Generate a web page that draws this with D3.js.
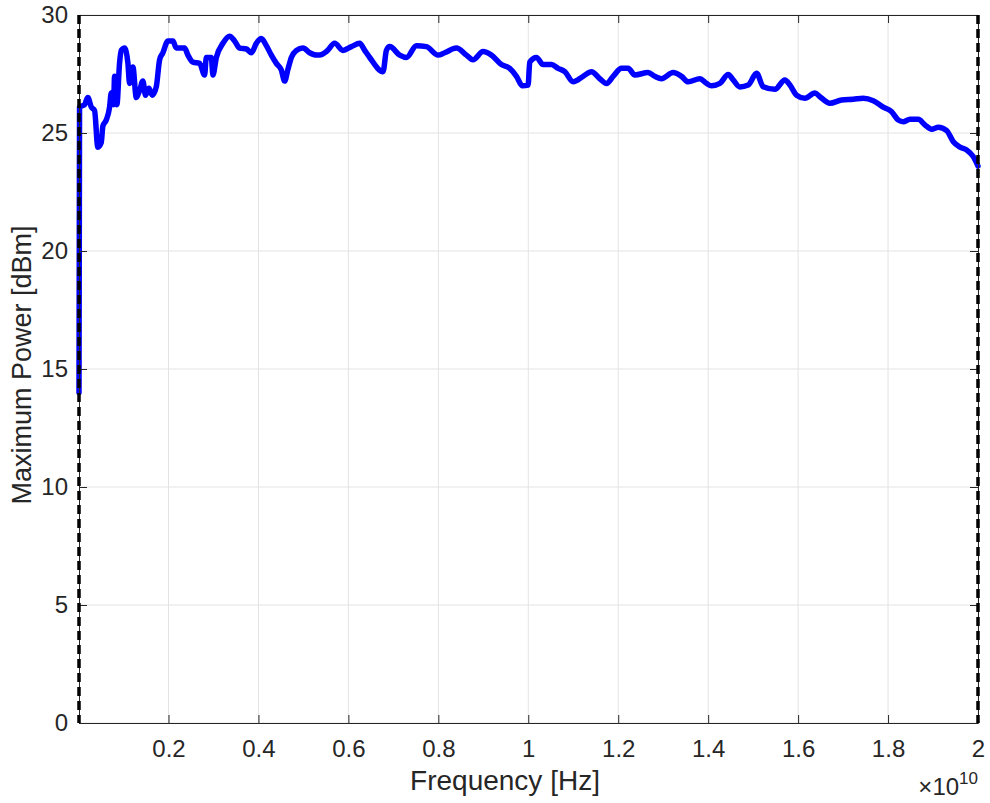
<!DOCTYPE html>
<html>
<head>
<meta charset="utf-8">
<script src="https://cdn.jsdelivr.net/npm/d3@7/dist/d3.min.js"></script>
<style>
  html, body { margin: 0; padding: 0; background: #fff; }
  svg { display: block; }
  text { font-family: "Liberation Sans", Arial, Helvetica, sans-serif; }
</style>
</head>
<body>
<svg id="chart" width="990" height="803"></svg>
<script>
// Frequency in GHz (converted to Hz for the scale), maximum power in dBm
const freqGHz = [0.01, 0.022, 0.133, 0.207, 0.283, 0.356, 0.429, 0.505, 0.541, 0.616, 0.690, 0.727, 0.779, 0.801, 0.852,
  0.912, 0.950, 1.023, 1.097, 1.135, 1.208, 1.284, 1.357, 1.430, 1.490, 1.564, 1.640, 1.729, 1.802, 1.875, 1.987,
  2.098, 2.173, 2.247, 2.358, 2.432, 2.543, 2.692, 2.803, 2.841, 2.952, 2.988, 3.064, 3.210, 3.359, 3.470, 3.582,
  3.731, 3.842, 3.953, 4.065, 4.176, 4.287, 4.398, 4.509, 4.583, 4.656, 4.732, 4.843, 4.990, 5.139, 5.288, 5.362,
  5.511, 5.695, 5.880, 6.067, 6.252, 6.363, 6.474, 6.770, 6.846, 6.919, 7.141, 7.290, 7.513, 7.735, 7.993, 8.142,
  8.402, 8.625, 8.771, 8.994, 9.181, 9.403, 9.588, 9.737, 9.871, 9.996, 10.033, 10.182, 10.329, 10.516, 10.663,
  10.812, 10.997, 11.219, 11.406, 11.591, 11.740, 11.887, 12.074, 12.221, 12.369, 12.665, 12.814, 12.963, 13.221,
  13.408, 13.555, 13.815, 13.964, 14.075, 14.260, 14.445, 14.556, 14.705, 14.890, 15.077, 15.224, 15.484, 15.706,
  15.818, 15.967, 16.151, 16.374, 16.485, 16.707, 16.968, 17.226, 17.448, 17.671, 17.893, 18.080, 18.227, 18.338,
  18.487, 18.672, 18.821, 18.970, 19.117, 19.304, 19.451, 19.600, 19.748, 19.896, 20.0];
const powerDBm = [14.0, 26.1, 26.2, 26.5, 26.1, 25.95, 24.4, 24.6, 25.3, 25.55, 26.1, 26.7, 26.2, 27.4, 26.2,
  27.97, 28.5, 28.6, 27.97, 27.1, 27.8, 26.5, 26.8, 27.2, 26.6, 26.9, 26.6, 26.96, 28.1, 28.4, 28.9,
  28.9, 28.6, 28.6, 28.6, 28.3, 28.0, 27.95, 27.46, 28.2, 28.2, 27.46, 28.2, 28.8, 29.1, 28.9, 28.6,
  28.56, 28.4, 28.8, 29.0, 28.7, 28.3, 27.95, 27.67, 27.2, 27.7, 28.2, 28.5, 28.6, 28.4, 28.3, 28.3,
  28.45, 28.8, 28.5, 28.66, 28.8, 28.5, 28.2, 27.6, 28.5, 28.66, 28.3, 28.2, 28.7, 28.66, 28.3, 28.4,
  28.6, 28.3, 28.1, 28.45, 28.3, 27.9, 27.74, 27.4, 27.0, 27.03, 28.0, 28.2, 27.9, 27.9, 27.74,
  27.6, 27.17, 27.4, 27.6, 27.3, 27.1, 27.4, 27.74, 27.74, 27.46, 27.56, 27.4, 27.3, 27.56,
  27.4, 27.17, 27.3, 27.1, 27.0, 27.1, 27.48, 27.25, 26.95, 27.03, 27.53, 26.96, 26.85, 27.25,
  27.03, 26.6, 26.47, 26.7, 26.54, 26.26, 26.4, 26.43, 26.47, 26.37, 26.1, 25.9, 25.55, 25.48,
  25.58, 25.58, 25.34, 25.16, 25.24, 25.1, 24.63, 24.4, 24.28, 24.0, 23.6];
const xTicks = [0.2e10, 0.4e10, 0.6e10, 0.8e10, 1.0e10, 1.2e10, 1.4e10, 1.6e10, 1.8e10, 2.0e10];
const xTickLabels = ["0.2", "0.4", "0.6", "0.8", "1", "1.2", "1.4", "1.6", "1.8", "2"];
const yTicks = [0, 5, 10, 15, 20, 25, 30];
const xDomain = [1e7, 2e10];
const yDomain = [0, 30];
const markerFreqs = [1e7, 2e10];
const xLabel = "Frequency [Hz]";
const yLabel = "Maximum Power [dBm]";

(function () {
const data = freqGHz.map((f, i) => ({ f: f * 1e9, p: powerDBm[i] }));

const svg = d3.select("#chart");
const L = 79, R = 978, T = 15, B = 723;
const x = d3.scaleLinear().domain(xDomain).range([L, R]);
const y = d3.scaleLinear().domain(yDomain).range([B, T]);
const axisColor = "#262626";

// grid
const grid = svg.append("g");
grid.selectAll("line.gx").data(xTicks).join("line")
  .attr("x1", d => x(d)).attr("x2", d => x(d)).attr("y1", T).attr("y2", B)
  .attr("stroke", "#e3e3e3").attr("stroke-width", 1);
grid.selectAll("line.gy").data(yTicks).join("line")
  .attr("x1", L).attr("x2", R).attr("y1", d => y(d)).attr("y2", d => y(d))
  .attr("stroke", "#e3e3e3").attr("stroke-width", 1);

// data line
const line = d3.line().x(d => x(d.f)).y(d => y(d.p)).curve(d3.curveMonotoneX);
svg.append("path").datum(data).attr("d", line)
  .attr("fill", "none").attr("stroke", "#0000ff").attr("stroke-width", 5.5)
  .attr("stroke-linejoin", "round").attr("stroke-linecap", "round");

// axes (ticks inward)
const tickLen = 8;
const gBottom = svg.append("g").attr("transform", `translate(0,${B})`)
  .call(d3.axisBottom(x).tickValues(xTicks).tickFormat((d, i) => xTickLabels[i]).tickSizeInner(-tickLen).tickSizeOuter(0).tickPadding(17));
const gTop = svg.append("g").attr("transform", `translate(0,${T})`)
  .call(d3.axisTop(x).tickValues(xTicks).tickFormat("").tickSizeInner(-tickLen).tickSizeOuter(0));
const gLeft = svg.append("g").attr("transform", `translate(${L},0)`)
  .call(d3.axisLeft(y).tickValues(yTicks).tickSizeInner(-tickLen).tickSizeOuter(0).tickPadding(11));
const gRight = svg.append("g").attr("transform", `translate(${R},0)`)
  .call(d3.axisRight(y).tickValues(yTicks).tickFormat("").tickSizeInner(-tickLen).tickSizeOuter(0));
[gBottom, gTop, gLeft, gRight].forEach(g => {
  g.select(".domain").attr("stroke", axisColor).attr("stroke-width", 1);
  g.selectAll(".tick line").attr("stroke", axisColor).attr("stroke-width", 1);
  g.selectAll(".tick text").attr("fill", axisColor).style("font-size", "24px")
    .style("font-family", '"Liberation Sans", Arial, sans-serif');
});

// dashed markers
svg.selectAll("line.marker").data(markerFreqs).join("line")
  .attr("x1", d => x(d)).attr("x2", d => x(d)).attr("y1", T).attr("y2", B)
  .attr("stroke", "#000").attr("stroke-width", 3.5).attr("stroke-dasharray", "9,5");

// axis labels
svg.append("text").attr("x", 505).attr("y", 790).attr("text-anchor", "middle")
  .attr("fill", axisColor).style("font-size", "28px").text(xLabel);
svg.append("text").attr("transform", `translate(31,365) rotate(-90)`).attr("text-anchor", "middle")
  .attr("fill", axisColor).style("font-size", "27px").text(yLabel);

// exponent label
const ex = svg.append("text").attr("x", 978).attr("y", 795).attr("text-anchor", "end")
  .attr("fill", axisColor).style("font-size", "24px");
ex.append("tspan").text("\u00d710");
ex.append("tspan").attr("dy", -11).style("font-size", "17px").text("10");
})();
</script>
</body>
</html>
